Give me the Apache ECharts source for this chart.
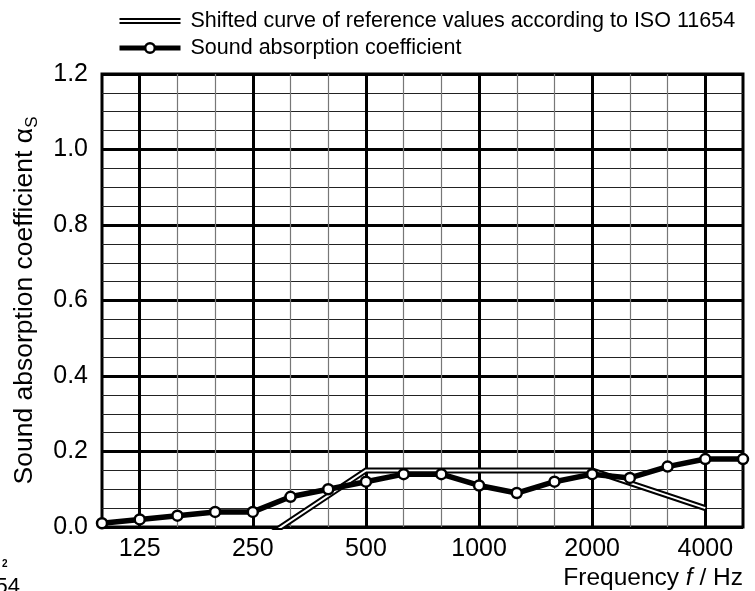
<!DOCTYPE html>
<html><head><meta charset="utf-8">
<script src="https://cdn.jsdelivr.net/npm/echarts@6/dist/echarts.min.js"></script>
<style>html,body{margin:0;padding:0;background:#fff}#c{width:755px;height:591px}</style>
</head><body><div id="c"></div>
<script>
const frequencies = ['100','125','160','200','250','315','400','500','630','800','1000','1250','1600','2000','2500','3150','4000','5000'];
const tickLabels = ['125','250','500','1000','2000','4000'];
const absorption = [0.01,0.02,0.03,0.04,0.04,0.08,0.10,0.12,0.14,0.14,0.11,0.09,0.12,0.14,0.13,0.16,0.18,0.18];
const referenceCurve = [null,null,null,null,-0.05,null,null,0.15,null,null,0.15,null,null,0.15,null,null,0.05,null];
const refName = 'Shifted curve of reference values according to ISO 11654';
const measName = 'Sound absorption coefficient';
const FONT = 'Liberation Sans, Arial, sans-serif';

const isMajor = i => tickLabels.indexOf(frequencies[i]) >= 0;
const chart = echarts.init(document.getElementById('c'), null, {renderer:'canvas'});
chart.setOption({
  animation: false,
  backgroundColor: '#fff',
  textStyle: {fontFamily: FONT, color: '#000'},
  grid: {left: 102, right: 12, top: 74, bottom: 64, show: true, borderColor: '#000', borderWidth: 3, backgroundColor: 'transparent'},
  legend: {
    orient: 'vertical', left: 112, top: 5, itemWidth: 61, itemHeight: 12, itemGap: 5,
    selectedMode: false, symbolKeepAspect: true,
    textStyle: {fontSize: 21.5, lineHeight: 21, fontFamily: FONT, color: '#000', padding: [0,0,0,5]},
    data: [
      {name: refName, icon: 'path://M0,0H61V2H0Z M0,4H61V6H0Z', itemStyle: {color: '#000', borderWidth: 0}},
      {name: measName, lineStyle: {width: 5, color: '#000'}, itemStyle: {color: '#fff', borderColor: '#000', borderWidth: 2.5}}
    ]
  },
  xAxis: [
    {type: 'category', data: frequencies, boundaryGap: false,
     axisLine: {show: false}, axisTick: {show: false},
     axisLabel: {interval: (i) => isMajor(i), fontSize: 25, color: '#000', fontFamily: FONT, margin: 10},
     splitLine: {show: true, interval: (i) => isMajor(i), lineStyle: {color: '#000', width: 3}}},
    {type: 'category', data: frequencies, boundaryGap: false, position: 'bottom',
     axisLine: {show: false}, axisTick: {show: false}, axisLabel: {show: false},
     splitLine: {show: true, interval: (i) => !isMajor(i) && i > 0 && i < frequencies.length - 1, lineStyle: {color: '#777', width: 1.2}}}
  ],
  yAxis: {
    type: 'value', min: 0, max: 1.2, interval: 0.2,
    axisLine: {show: false}, axisTick: {show: false},
    axisLabel: {formatter: v => v.toFixed(1), fontSize: 25, color: '#000', fontFamily: FONT, margin: 14},
    splitLine: {show: true, lineStyle: {color: '#000', width: 3}},
    minorTick: {show: false, splitNumber: 4},
    minorSplitLine: {show: true, lineStyle: {color: '#222', width: 1.2}},
    name: '{a|Sound absorption coefficient α}{s|S}',
    nameLocation: 'middle', nameGap: 61,
    nameTextStyle: {rich: {
      a: {fontSize: 26.5, lineHeight: 32, fontFamily: FONT, color: '#000', verticalAlign: 'middle'},
      s: {fontSize: 17, lineHeight: 12, fontFamily: FONT, color: '#000', verticalAlign: 'bottom'}
    }}
  },
  series: [
    {type: 'line', name: refName, data: referenceCurve, connectNulls: true, symbol: 'none', z: 3, clip: true,
     itemStyle: {color: '#000'}, lineStyle: {color: '#000', width: 6, join: 'miter'}},
    {type: 'line', name: 'refInner', data: referenceCurve, connectNulls: true, symbol: 'none', z: 4, clip: true,
     itemStyle: {color: '#fff'}, lineStyle: {color: '#fff', width: 2, join: 'miter'}},
    {type: 'line', name: measName, data: absorption, symbol: 'circle', symbolSize: 10, z: 5, clip: false,
     itemStyle: {color: '#fff', borderColor: '#000', borderWidth: 2.5},
     lineStyle: {color: '#000', width: 5.5}}
  ],
  graphic: [
    {type: 'text', x: 743, y: 578, style: {text: '{n|Frequency }{i|f}{n| / Hz}', align: 'right', verticalAlign: 'middle',
      rich: {n: {fontSize: 24.5, fontFamily: FONT, fill: '#000'}, i: {fontSize: 24.5, fontFamily: FONT, fontStyle: 'italic', fill: '#000'}}}},
    {type: 'text', x: 2, y: 559, style: {text: '2', fontSize: 10, fontWeight: 'bold', fontFamily: FONT, fill: '#000', verticalAlign: 'top'}},
    {type: 'text', x: 20, y: 576, style: {text: '54', fontSize: 22, fontFamily: FONT, fill: '#000', align: 'right', verticalAlign: 'top'}}
  ]
});
</script></body></html>
